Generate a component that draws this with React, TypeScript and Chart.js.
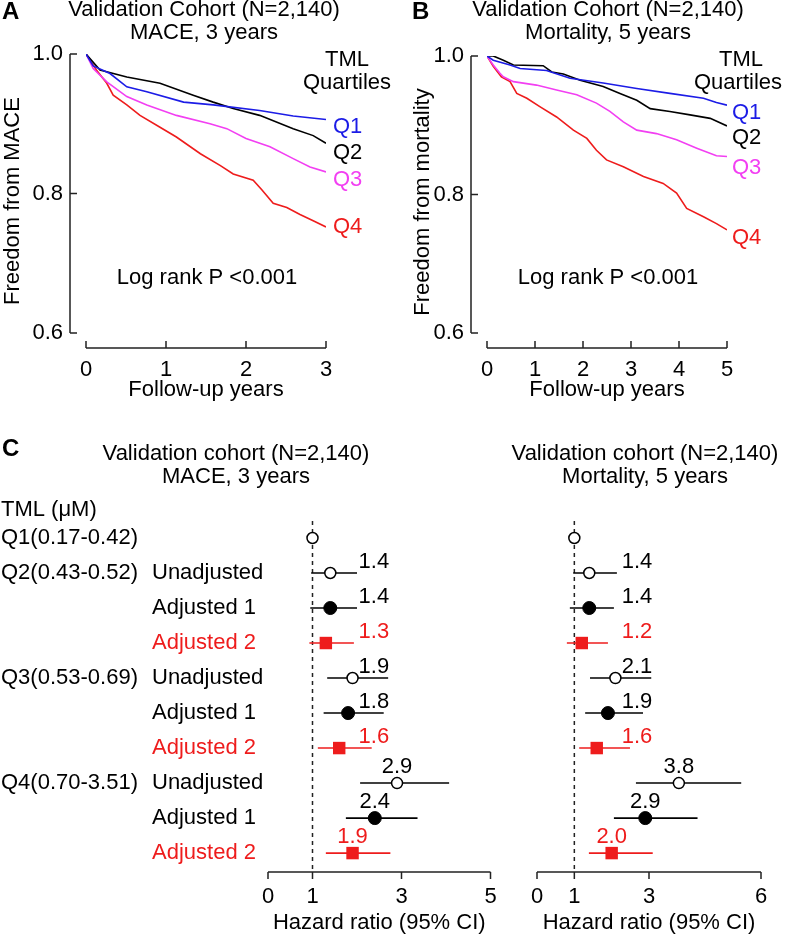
import React, { useEffect, useRef } from 'react';
import { Chart, registerables } from 'chart.js';

Chart.register(...registerables);

const FONT = '"Liberation Sans", Arial, Helvetica, sans-serif';
const RED = '#ee1c1c';

// ---------------- Panel A: MACE, 3 years (freedom from MACE) ----------------
const maceYearTicks = [0, 1, 2, 3];
const survivalTicks = [0.6, 0.8, 1.0];
const maceQ1 = [[0, 1], [0.09, 0.983], [0.3, 0.972], [0.51, 0.953], [0.76, 0.946], [1.22, 0.931], [1.59, 0.927], [2.17, 0.919], [2.59, 0.911], [3.0, 0.906]];
const maceQ2 = [[0, 1], [0.175, 0.977], [0.51, 0.967], [0.925, 0.958], [1.34, 0.941], [1.59, 0.931], [1.84, 0.922], [2.17, 0.912], [2.59, 0.893], [2.84, 0.883], [3.0, 0.872]];
const maceQ3 = [[0, 1], [0.09, 0.979], [0.26, 0.96], [0.51, 0.939], [0.76, 0.927], [1.13, 0.912], [1.55, 0.9], [1.76, 0.893], [2.0, 0.879], [2.3, 0.867], [2.59, 0.85], [2.8, 0.838], [3.0, 0.831]];
const maceQ4 = [[0, 1], [0.13, 0.977], [0.26, 0.958], [0.34, 0.941], [0.51, 0.927], [0.675, 0.912], [0.925, 0.895], [1.13, 0.881], [1.43, 0.857], [1.68, 0.84], [1.84, 0.828], [2.09, 0.819], [2.2, 0.805], [2.34, 0.786], [2.51, 0.78], [2.675, 0.77], [2.84, 0.761], [3.0, 0.752]];

// ---------------- Panel B: Mortality, 5 years (freedom from mortality) ----------------
const mortYearTicks = [0, 1, 2, 3, 4, 5];
const mortQ1 = [[0, 1], [0.13, 0.994], [0.48, 0.987], [0.69, 0.982], [1.24, 0.979], [1.73, 0.968], [2.42, 0.961], [3.12, 0.953], [3.81, 0.946], [4.51, 0.939], [4.78, 0.933], [5.0, 0.929]];
const mortQ2 = [[0, 1], [0.13, 1.0], [0.34, 0.994], [0.55, 0.987], [1.17, 0.986], [1.35, 0.977], [1.59, 0.974], [1.94, 0.965], [2.42, 0.956], [2.77, 0.946], [3.12, 0.936], [3.4, 0.924], [3.81, 0.92], [4.23, 0.915], [4.65, 0.91], [5.0, 0.899]];
const mortQ3 = [[0, 1], [0.13, 0.987], [0.27, 0.975], [0.34, 0.97], [0.55, 0.963], [1.03, 0.958], [1.45, 0.951], [1.87, 0.944], [2.28, 0.932], [2.56, 0.92], [2.84, 0.905], [3.12, 0.893], [3.53, 0.888], [3.95, 0.879], [4.37, 0.867], [4.78, 0.856], [5.0, 0.855]];
const mortQ4 = [[0, 1], [0.13, 0.985], [0.3, 0.97], [0.48, 0.963], [0.62, 0.946], [0.83, 0.939], [1.1, 0.927], [1.45, 0.912], [1.8, 0.893], [2.08, 0.881], [2.28, 0.864], [2.49, 0.85], [2.84, 0.84], [3.26, 0.826], [3.67, 0.816], [3.95, 0.802], [4.16, 0.78], [4.51, 0.768], [4.78, 0.758], [5.0, 0.749]];

const quartileNames = ['Q1', 'Q2', 'Q3', 'Q4'];
const quartileColors = ['#1c1ce6', '#000000', '#f23ff2', RED];

// ---------------- Panel C: hazard ratios ----------------
const quartileRanges = ['Q1(0.17-0.42)', 'Q2(0.43-0.52)', 'Q3(0.53-0.69)', 'Q4(0.70-3.51)'];
const modelNames = ['Unadjusted', 'Adjusted 1', 'Adjusted 2'];
const referenceHR = 1;
// rows: Q2 (Unadj, Adj1, Adj2), Q3 (...), Q4 (...)
const maceHR = [1.4, 1.4, 1.3, 1.9, 1.8, 1.6, 2.9, 2.4, 1.9];
const maceLo = [0.97, 0.95, 0.93, 1.33, 1.25, 1.12, 2.07, 1.75, 1.3];
const maceHi = [2.0, 2.0, 1.93, 2.7, 2.6, 2.33, 4.07, 3.36, 2.75];
const mortHR = [1.4, 1.4, 1.2, 2.1, 1.9, 1.6, 3.8, 2.9, 2.0];
const mortLo = [0.97, 0.88, 0.8, 1.42, 1.29, 1.13, 2.65, 2.06, 1.39];
const mortHi = [2.14, 2.06, 1.9, 3.06, 2.84, 2.49, 5.47, 4.3, 3.1];
const maceHRTicks = [0, 1, 3, 5];
const mortHRTicks = [0, 1, 3, 6];

type Txt = { text: string; x: number; y: number; color?: string; align?: CanvasTextAlign; bold?: boolean; size?: number };

function drawTexts(ctx: CanvasRenderingContext2D, texts: Txt[], dx: number, dy: number) {
  ctx.save();
  ctx.textBaseline = 'middle';
  for (const t of texts) {
    ctx.font = `${t.bold ? 'bold ' : ''}${t.size ?? 22}px ${FONT}`;
    ctx.fillStyle = t.color ?? '#000';
    ctx.textAlign = t.align ?? 'center';
    ctx.fillText(t.text, t.x - dx, t.y - dy);
  }
  ctx.restore();
}

function kmConfig(p: any) {
  const { series, xTicks, yTitle, yWidth, yTitlePad, topPad, rightPad, texts, dx } = p;
  const xMax = xTicks[xTicks.length - 1];
  return {
    type: 'line',
    data: {
      datasets: series.map((s: number[][], i: number) => ({
        label: quartileNames[i],
        data: s.map(([x, y]) => ({ x, y })),
        borderColor: quartileColors[i],
        borderWidth: 1.6,
        pointRadius: 0,
        tension: 0,
        fill: false,
      })),
    },
    options: {
      animation: false,
      responsive: false,
      events: [],
      layout: { padding: { top: topPad, right: rightPad, bottom: 0, left: 0 } },
      plugins: { legend: { display: false }, tooltip: { enabled: false } },
      scales: {
        x: {
          type: 'linear',
          min: 0,
          max: xMax,
          afterBuildTicks: (s: any) => { s.ticks = xTicks.map((v: number) => ({ value: v })); },
          afterFit: (s: any) => { s.height = 55; },
          grid: { display: false, drawTicks: false },
          border: { display: false },
          ticks: { padding: 9, color: '#000', font: { size: 22, family: FONT }, maxRotation: 0, autoSkip: false },
          title: { display: true, text: 'Follow-up years', color: '#000', font: { size: 22, family: FONT }, padding: 0 },
        },
        y: {
          type: 'linear',
          min: 0.5785,
          max: 1.0,
          afterBuildTicks: (s: any) => { s.ticks = survivalTicks.map((v) => ({ value: v })); },
          afterFit: (s: any) => { s.width = yWidth; },
          grid: { display: false, drawTicks: false },
          border: { display: false },
          ticks: { padding: 23, color: '#000', font: { size: 22, family: FONT }, callback: (v: any) => Number(v).toFixed(1) },
          title: { display: true, text: yTitle, color: '#000', font: { size: 22, family: FONT }, padding: { top: yTitlePad, bottom: 0 } },
        },
      },
    },
    plugins: [
      {
        id: 'kmDecor',
        beforeDatasetsDraw(chart: any) {
          const { ctx, chartArea, scales } = chart;
          const xs = scales.x, ys = scales.y;
          ctx.save();
          ctx.strokeStyle = '#222';
          ctx.lineWidth = 1.5;
          ctx.beginPath();
          const ax = chartArea.left - 16;
          ctx.moveTo(ax, ys.getPixelForValue(survivalTicks[survivalTicks.length - 1]));
          ctx.lineTo(ax, ys.getPixelForValue(survivalTicks[0]));
          for (const v of survivalTicks) {
            const py = ys.getPixelForValue(v);
            ctx.moveTo(ax, py);
            ctx.lineTo(ax + 7, py);
          }
          const by = chartArea.bottom;
          ctx.moveTo(xs.getPixelForValue(0), by);
          ctx.lineTo(xs.getPixelForValue(xMax), by);
          for (const v of xTicks) {
            const px = xs.getPixelForValue(v);
            ctx.moveTo(px, by);
            ctx.lineTo(px, by - 7);
          }
          ctx.stroke();
          ctx.restore();
        },
        afterDraw(chart: any) {
          drawTexts(chart.ctx, texts, dx, 0);
        },
      },
    ],
  };
}

function forestConfig(p: any) {
  const { hr, lo, hi, xTicks, padLeft, padRight, labelCol, texts, dx, dy, rowLabels } = p;
  const xMax = xTicks[xTicks.length - 1];
  const rowOf = (i: number) => i + 1;
  const grp = (i: number) => Math.floor(i / 3);
  const mdl = (i: number) => i % 3;
  const idx = hr.map((_: number, i: number) => i);
  const errSets = idx.map((i: number) => ({
    data: [{ x: lo[i], y: rowOf(i) }, { x: hi[i], y: rowOf(i) }],
    showLine: true,
    borderColor: mdl(i) === 2 ? RED : '#000',
    borderWidth: 1.6,
    pointRadius: 0,
    order: 2,
    clip: false,
  }));
  const openSet = {
    data: [{ x: referenceHR, y: 0 }, ...idx.filter((i: number) => mdl(i) === 0).map((i: number) => ({ x: hr[i], y: rowOf(i) }))],
    pointStyle: 'circle',
    pointRadius: 5.5,
    pointBackgroundColor: '#fff',
    pointBorderColor: '#000',
    pointBorderWidth: 1.5,
    order: 0,
    clip: false,
  };
  const filledSet = {
    data: idx.filter((i: number) => mdl(i) === 1).map((i: number) => ({ x: hr[i], y: rowOf(i) })),
    pointStyle: 'circle',
    pointRadius: 6.5,
    pointBackgroundColor: '#000',
    pointBorderColor: '#000',
    pointBorderWidth: 1,
    order: 0,
    clip: false,
  };
  const squareSet = {
    data: idx.filter((i: number) => mdl(i) === 2).map((i: number) => ({ x: hr[i], y: rowOf(i) })),
    pointStyle: 'rect',
    pointRadius: 8.8,
    pointBackgroundColor: RED,
    pointBorderColor: RED,
    pointBorderWidth: 0,
    order: 0,
    clip: false,
  };
  return {
    type: 'scatter',
    data: { datasets: [openSet, filledSet, squareSet, ...errSets] },
    options: {
      animation: false,
      responsive: false,
      events: [],
      layout: { padding: { top: 108, right: padRight, bottom: 0, left: padLeft } },
      plugins: { legend: { display: false }, tooltip: { enabled: false } },
      scales: {
        x: {
          type: 'linear',
          min: 0,
          max: xMax,
          afterBuildTicks: (s: any) => { s.ticks = xTicks.map((v: number) => ({ value: v })); },
          afterFit: (s: any) => { s.height = 64; },
          grid: { display: false, drawTicks: false },
          border: { display: false },
          ticks: { padding: 12, color: '#000', font: { size: 22, family: FONT }, maxRotation: 0, autoSkip: false },
          title: { display: true, text: 'Hazard ratio (95% CI)', color: '#000', font: { size: 22, family: FONT }, padding: 0 },
        },
        // rows 0..9 evenly spaced; the extra 0.54 row leaves room above the axis line
        y: { type: 'linear', reverse: true, min: 0, max: 9.54, display: false },
      },
    },
    plugins: [
      {
        id: 'forestDecor',
        beforeDatasetsDraw(chart: any) {
          const { ctx, chartArea, scales } = chart;
          const xs = scales.x;
          const axisY = chartArea.bottom;
          ctx.save();
          ctx.strokeStyle = '#222';
          ctx.lineWidth = 1.5;
          ctx.setLineDash([4, 4]);
          ctx.beginPath();
          const rx = xs.getPixelForValue(referenceHR);
          ctx.moveTo(rx, chartArea.top - 17);
          ctx.lineTo(rx, axisY);
          ctx.stroke();
          ctx.setLineDash([]);
          ctx.beginPath();
          ctx.moveTo(xs.getPixelForValue(0), axisY);
          ctx.lineTo(xs.getPixelForValue(xMax), axisY);
          for (const v of xTicks) {
            const px = xs.getPixelForValue(v);
            ctx.moveTo(px, axisY);
            ctx.lineTo(px, axisY + 7);
          }
          ctx.stroke();
          ctx.restore();
        },
        afterDraw(chart: any) {
          const { ctx, scales } = chart;
          const xs = scales.x, ys = scales.y;
          const lab: Txt[] = [];
          idx.forEach((i: number) => {
            const g = grp(i);
            lab.push({
              text: hr[i].toFixed(1),
              x: xs.getPixelForValue(g === 2 ? hr[i] : labelCol),
              y: ys.getPixelForValue(rowOf(i)) + (g === 2 ? -16 : -11),
              color: mdl(i) === 2 ? RED : '#000',
            });
          });
          if (rowLabels) {
            quartileRanges.forEach((q, g) => {
              lab.push({ text: q, x: 1, y: ys.getPixelForValue(g === 0 ? 0 : 1 + (g - 1) * 3), align: 'left' });
            });
            for (let g = 0; g < 3; g++) {
              modelNames.forEach((m, k) => {
                lab.push({ text: m, x: 152, y: ys.getPixelForValue(1 + g * 3 + k), align: 'left', color: k === 2 ? RED : '#000' });
              });
            }
          }
          drawTexts(ctx, lab, 0, 0);
          drawTexts(ctx, texts, dx, dy);
        },
      },
    ],
  };
}

function ChartBox({ make, left, top, width, height }: any) {
  const ref = useRef<HTMLCanvasElement>(null);
  useEffect(() => {
    const chart = new Chart(ref.current as HTMLCanvasElement, make());
    return () => chart.destroy();
  }, []);
  return (
    <div style={{ position: 'absolute', left, top, width, height }}>
      <canvas ref={ref} width={width} height={height} style={{ display: 'block', width, height }} />
    </div>
  );
}

export default function App() {
  const textsA: Txt[] = [
    { text: 'A', x: 2, y: 12, align: 'left', bold: true, size: 24 },
    { text: 'Validation Cohort (N=2,140)', x: 204, y: 10 },
    { text: 'MACE, 3 years', x: 204, y: 33 },
    { text: 'TML', x: 347, y: 60 },
    { text: 'Quartiles', x: 347, y: 83 },
    { text: 'Q1', x: 333, y: 127, align: 'left', color: quartileColors[0] },
    { text: 'Q2', x: 333, y: 153, align: 'left', color: quartileColors[1] },
    { text: 'Q3', x: 333, y: 180, align: 'left', color: quartileColors[2] },
    { text: 'Q4', x: 333, y: 227, align: 'left', color: quartileColors[3] },
    { text: 'Log rank P <0.001', x: 207, y: 278 },
  ];
  const textsB: Txt[] = [
    { text: 'B', x: 412, y: 12, align: 'left', bold: true, size: 24 },
    { text: 'Validation Cohort (N=2,140)', x: 608, y: 10 },
    { text: 'Mortality, 5 years', x: 608, y: 33 },
    { text: 'TML', x: 741, y: 60 },
    { text: 'Quartiles', x: 738, y: 83 },
    { text: 'Q1', x: 732, y: 113, align: 'left', color: quartileColors[0] },
    { text: 'Q2', x: 732, y: 138, align: 'left', color: quartileColors[1] },
    { text: 'Q3', x: 732, y: 168, align: 'left', color: quartileColors[2] },
    { text: 'Q4', x: 732, y: 238, align: 'left', color: quartileColors[3] },
    { text: 'Log rank P <0.001', x: 608, y: 278 },
  ];
  const textsCL: Txt[] = [
    { text: 'C', x: 2, y: 449, align: 'left', bold: true, size: 24 },
    { text: 'Validation cohort (N=2,140)', x: 236, y: 454 },
    { text: 'MACE, 3 years', x: 236, y: 477 },
    { text: 'TML (\u03bcM)', x: 1, y: 510, align: 'left' },
  ];
  const textsCR: Txt[] = [
    { text: 'Validation cohort (N=2,140)', x: 645, y: 454 },
    { text: 'Mortality, 5 years', x: 645, y: 477 },
  ];

  return (
    <div style={{ position: 'absolute', left: 0, top: 0, width: 786, height: 936, background: '#fff', overflow: 'hidden' }}>
      <ChartBox
        left={0} top={0} width={393} height={403}
        make={() => kmConfig({
          series: [maceQ1, maceQ2, maceQ3, maceQ4], xTicks: maceYearTicks, yTitle: 'Freedom from MACE',
          yWidth: 86, yTitlePad: 0, topPad: 54, rightPad: 67, texts: textsA, dx: 0,
        })}
      />
      <ChartBox
        left={400} top={0} width={386} height={403}
        make={() => kmConfig({
          series: [mortQ1, mortQ2, mortQ3, mortQ4], xTicks: mortYearTicks, yTitle: 'Freedom from mortality',
          yWidth: 87, yTitlePad: 10, topPad: 56, rightPad: 59, texts: textsB, dx: 400,
        })}
      />
      <ChartBox
        left={0} top={430} width={510} height={506}
        make={() => forestConfig({
          hr: maceHR, lo: maceLo, hi: maceHi, xTicks: maceHRTicks, padLeft: 268, padRight: 19.5,
          labelCol: 2.38, texts: textsCL, dx: 0, dy: 430, rowLabels: true,
        })}
      />
      <ChartBox
        left={500} top={430} width={286} height={506}
        make={() => forestConfig({
          hr: mortHR, lo: mortLo, hi: mortHi, xTicks: mortHRTicks, padLeft: 37, padRight: 25,
          labelCol: 2.68, texts: textsCR, dx: 500, dy: 430, rowLabels: false,
        })}
      />
    </div>
  );
}
